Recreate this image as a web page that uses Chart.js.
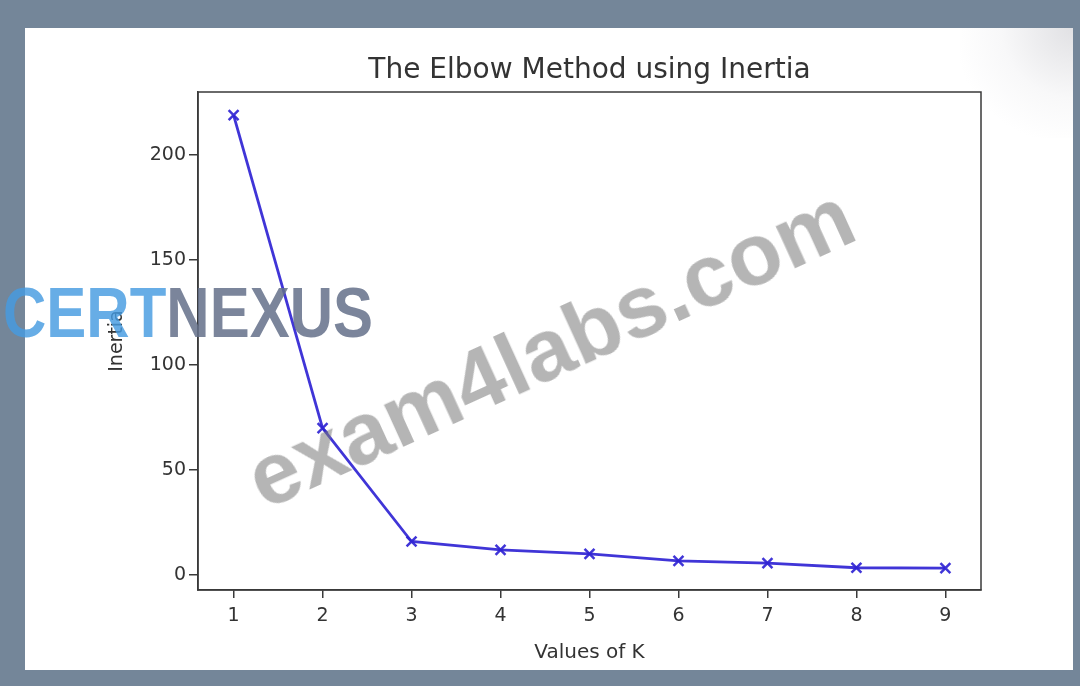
<!DOCTYPE html>
<html>
<head>
<meta charset="utf-8">
<script src="https://cdn.jsdelivr.net/npm/chart.js@4.4.1/dist/chart.umd.min.js"></script>
<style>
  html, body { margin: 0; padding: 0; width: 1080px; height: 686px; overflow: hidden; background: #748699; }
  #paper { position: absolute; left: 25px; top: 28px; width: 1048px; height: 642px; background: #ffffff; }
  #gloss { position: absolute; left: 960px; top: 28px; width: 113px; height: 110px;
           background: radial-gradient(ellipse at 100% 0%, rgba(205,205,210,0.6) 0%, rgba(232,232,235,0.3) 45%, rgba(255,255,255,0) 75%); }
  #c { position: absolute; left: 0; top: 0; }
  .wm1 { position: absolute; left: 3px; top: 287px; font-family: "Liberation Sans", Arial, sans-serif; font-weight: bold;
         font-size: 60px; line-height: 60px; white-space: nowrap; letter-spacing: 0px;
         transform: scaleY(1.16); transform-origin: 0 51px; }
  .wm1 .a { color: rgba(70,155,225,0.82); }
  .wm1 .b { color: rgba(100,112,138,0.85); }
  .wm2 { position: absolute; left: 550px; top: 347px; transform: translate(-50%, -50%) rotate(-24.5deg);
         font-family: "Liberation Sans", Arial, sans-serif; font-weight: bold; font-size: 88px; line-height: 88px;
         color: rgba(120,120,120,0.55); white-space: nowrap; }
</style>
</head>
<body>
<div id="paper"></div>
<div id="gloss"></div>
<canvas id="c" width="1080" height="686"></canvas>
<div class="wm1"><span class="a">CERT</span><span class="b">NEXUS</span></div>
<div class="wm2">exam4labs.com</div>
<script>
const kValues = [1, 2, 3, 4, 5, 6, 7, 8, 9];
const inertia = [219, 69.9, 15.9, 11.9, 10.0, 6.7, 5.6, 3.4, 3.2];
const yTickValues = [0, 50, 100, 150, 200];
const titleText = "The Elbow Method using Inertia";
const xLabel = "Values of K";
const yLabel = "Inertia";

const textColor = '#333333';
const axisColor = '#3a3a3a';

const frame = {
  id: 'frame',
  afterDatasetsDraw(chart) {
    const a = chart.chartArea, ctx = chart.ctx;
    ctx.save();
    ctx.strokeStyle = axisColor;
    ctx.lineWidth = 1.5;
    ctx.strokeRect(a.left, a.top, a.right - a.left, a.bottom - a.top);
    ctx.restore();
  }
};

const plotTitle = {
  id: 'plotTitle',
  afterDraw(chart) {
    const a = chart.chartArea, ctx = chart.ctx;
    ctx.save();
    ctx.fillStyle = textColor;
    ctx.font = '28px "DejaVu Sans"';
    ctx.textAlign = 'center';
    ctx.textBaseline = 'middle';
    ctx.fillText(titleText, (a.left + a.right) / 2, 71);
    ctx.restore();
  }
};

new Chart(document.getElementById('c'), {
  type: 'line',
  data: {
    datasets: [{
      data: kValues.map((k, i) => ({ x: k, y: inertia[i] })),
      borderColor: 'rgba(48,36,212,0.92)',
      borderWidth: 2.8,
      pointStyle: 'crossRot',
      pointRadius: 7,
      pointBorderWidth: 2.5,
      pointBorderColor: 'rgba(48,36,212,0.92)',
      tension: 0,
      fill: false
    }]
  },
  options: {
    responsive: false,
    devicePixelRatio: 1,
    animation: false,
    layout: { padding: { left: 106, right: 99, top: 92, bottom: 21 } },
    plugins: {
      legend: { display: false },
      tooltip: { enabled: false },
      title: { display: false }
    },
    scales: {
      x: {
        type: 'linear',
        min: 0.6,
        max: 9.4,
        afterFit: s => { s.height = 75; },
        afterBuildTicks: s => { s.ticks = kValues.map(v => ({ value: v })); },
        grid: { drawOnChartArea: false, drawTicks: true, tickLength: 8, color: axisColor, lineWidth: 1.5 },
        border: { display: true, color: axisColor, width: 1.5 },
        ticks: { color: textColor, font: { family: 'DejaVu Sans', size: 19 }, padding: 7, maxRotation: 0 },
        title: { display: true, text: xLabel, color: textColor, font: { family: 'DejaVu Sans', size: 20 }, padding: 0 }
      },
      y: {
        type: 'linear',
        min: -7.2,
        max: 230,
        afterFit: s => { s.width = 92; },
        afterBuildTicks: s => { s.ticks = yTickValues.map(v => ({ value: v })); },
        grid: { drawOnChartArea: false, drawTicks: true, tickLength: 9, color: axisColor, lineWidth: 1.5 },
        border: { display: true, color: axisColor, width: 1.5 },
        ticks: { color: textColor, font: { family: 'DejaVu Sans', size: 19 }, padding: 3 },
        title: { display: true, text: yLabel, color: textColor, font: { family: 'DejaVu Sans', size: 19 }, padding: 0 }
      }
    }
  },
  plugins: [frame, plotTitle]
});
</script>
</body>
</html>
